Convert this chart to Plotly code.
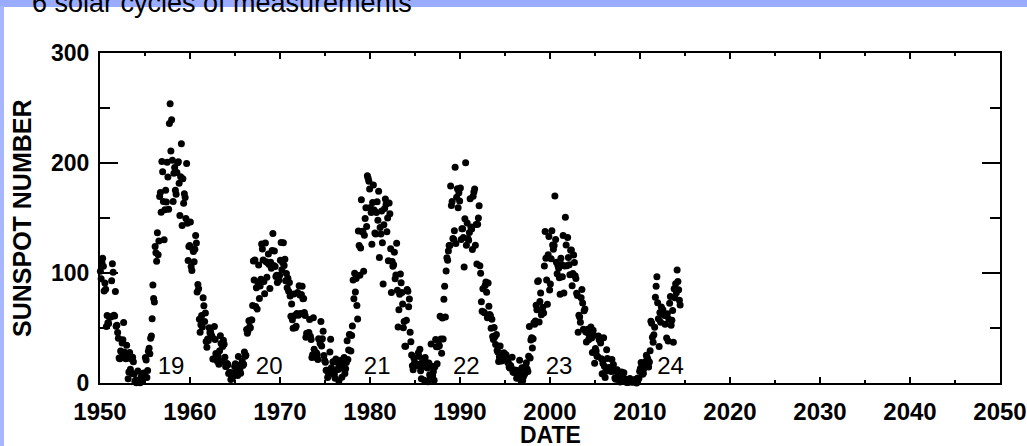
import plotly.graph_objects as go

# Monthly mean sunspot numbers (one list per decade, Jan..Dec)
ssn_1950s = [
    101.6, 94.8, 109.7, 113.4, 106.2, 83.6, 91.0, 85.2, 51.3, 61.4, 54.8, 54.1,
    59.9, 59.9, 59.9, 92.9, 108.5, 100.6, 61.5, 61.0, 83.1, 51.6, 52.4, 45.8,
    40.7, 22.7, 22.0, 29.1, 23.4, 36.4, 39.3, 54.9, 28.2, 23.8, 22.1, 34.3,
    26.5, 3.9, 10.0, 27.8, 12.5, 21.8, 8.6, 23.5, 19.3, 8.2, 1.6, 2.5,
    0.2, 0.5, 10.9, 1.8, 0.8, 0.2, 4.8, 8.4, 1.5, 7.0, 9.2, 7.6,
    23.1, 20.8, 4.9, 11.3, 28.9, 31.7, 26.7, 40.7, 42.7, 58.5, 89.2, 76.9,
    73.6, 124.0, 118.4, 110.7, 136.6, 116.6, 129.1, 169.6, 173.2, 155.3, 201.3, 192.1,
    165.0, 130.2, 157.4, 175.2, 164.6, 200.7, 187.2, 158.0, 235.8, 253.8, 210.9, 239.4,
    202.5, 164.9, 190.7, 196.0, 175.3, 171.5, 191.4, 200.2, 201.2, 181.5, 152.3, 187.6,
    217.4, 143.1, 185.7, 163.3, 172.0, 168.7, 149.6, 199.6, 145.2, 111.4, 124.0, 125.0,
]
ssn_1960s = [
    146.3, 106.0, 102.2, 122.0, 119.6, 110.2, 121.7, 134.1, 127.2, 82.8, 89.6, 85.6,
    57.9, 46.1, 53.0, 61.4, 51.0, 77.4, 70.2, 55.8, 63.6, 37.7, 32.6, 39.9,
    38.7, 50.3, 45.6, 46.4, 43.7, 42.0, 21.8, 21.8, 51.3, 39.5, 26.9, 23.2,
    19.8, 24.4, 17.1, 29.3, 43.0, 35.9, 19.6, 33.2, 38.8, 35.3, 23.4, 14.9,
    15.3, 17.7, 16.5, 8.6, 9.5, 9.1, 3.1, 9.3, 4.7, 6.1, 7.4, 15.1,
    17.5, 14.2, 11.7, 6.8, 24.1, 15.9, 11.9, 8.9, 16.8, 20.1, 15.8, 17.0,
    28.2, 24.4, 25.3, 48.7, 45.3, 47.7, 56.7, 51.2, 50.2, 57.2, 57.2, 70.4,
    110.9, 93.6, 111.8, 69.5, 86.5, 67.3, 91.5, 107.2, 76.8, 88.2, 94.3, 126.4,
    121.8, 111.9, 92.2, 81.2, 127.2, 110.3, 96.1, 109.3, 117.2, 107.7, 86.0, 109.8,
    104.4, 120.5, 135.8, 106.8, 120.0, 106.0, 96.8, 98.0, 91.3, 95.7, 93.5, 97.9,
]
ssn_1970s = [
    111.5, 127.8, 102.9, 109.5, 127.5, 106.8, 112.5, 93.0, 99.5, 86.6, 95.2, 83.5,
    91.3, 79.0, 60.7, 71.8, 57.5, 49.8, 81.0, 61.4, 50.2, 51.7, 63.2, 82.2,
    61.5, 88.4, 80.1, 63.2, 80.5, 88.0, 76.5, 76.8, 64.0, 61.3, 41.6, 45.3,
    43.4, 42.9, 46.0, 57.7, 42.4, 39.5, 23.1, 25.6, 59.3, 30.7, 23.9, 23.3,
    27.6, 26.0, 21.3, 40.3, 39.5, 36.0, 55.8, 33.6, 40.2, 47.1, 25.0, 20.5,
    18.9, 11.5, 11.5, 5.1, 9.0, 11.4, 28.2, 39.7, 13.9, 9.1, 19.4, 7.8,
    8.1, 4.3, 21.9, 18.8, 12.4, 12.2, 1.9, 16.4, 13.5, 20.6, 5.2, 15.3,
    16.4, 23.1, 8.7, 12.9, 18.6, 38.5, 21.4, 30.1, 44.0, 43.8, 29.1, 43.2,
    51.9, 93.6, 76.5, 99.7, 82.7, 95.1, 70.4, 58.1, 138.2, 125.1, 97.9, 122.7,
    166.6, 137.5, 138.0, 101.5, 134.4, 149.5, 159.4, 142.2, 188.4, 186.2, 183.3, 176.3,
]
ssn_1980s = [
    159.6, 155.0, 126.2, 164.1, 179.9, 157.3, 136.3, 135.4, 155.0, 164.7, 147.9, 174.4,
    114.0, 141.3, 135.5, 156.4, 127.5, 90.0, 143.8, 158.7, 167.3, 162.4, 137.5, 150.1,
    111.2, 163.6, 153.8, 122.0, 82.2, 110.4, 106.1, 107.6, 118.8, 94.7, 98.1, 127.0,
    84.3, 51.0, 66.5, 80.7, 99.2, 91.1, 82.2, 71.8, 50.3, 55.8, 33.3, 33.4,
    57.0, 85.1, 83.5, 69.4, 76.4, 46.1, 37.4, 25.5, 15.7, 12.0, 22.8, 18.7,
    16.5, 15.9, 17.2, 16.2, 27.5, 24.2, 30.7, 11.1, 3.9, 18.6, 16.2, 17.3,
    2.5, 23.2, 15.1, 18.5, 13.7, 1.1, 18.1, 7.4, 3.8, 35.4, 15.2, 6.8,
    10.4, 2.4, 14.7, 39.6, 33.0, 17.4, 33.0, 38.7, 33.9, 60.6, 39.9, 27.1,
    59.0, 40.0, 76.2, 88.0, 60.1, 101.8, 113.8, 111.6, 120.1, 125.1, 125.1, 179.2,
    161.3, 165.1, 131.4, 130.6, 138.5, 196.2, 126.9, 168.9, 176.7, 159.4, 173.0, 165.5,
]
ssn_1990s = [
    177.3, 130.5, 140.3, 140.3, 132.2, 105.4, 149.4, 200.3, 125.2, 145.5, 131.4, 129.7,
    136.9, 167.5, 141.9, 140.0, 121.3, 169.7, 173.7, 176.3, 125.3, 144.1, 108.2, 144.4,
    150.0, 161.1, 106.7, 99.8, 73.8, 65.2, 85.7, 64.5, 63.9, 88.7, 91.8, 82.6,
    59.3, 91.0, 69.8, 62.2, 61.3, 49.8, 57.9, 42.3, 39.5, 50.4, 42.0, 35.1,
    44.2, 29.5, 28.1, 19.6, 23.7, 33.7, 22.0, 19.9, 26.8, 26.0, 27.5, 22.4,
    23.9, 25.6, 21.2, 18.9, 18.4, 14.5, 13.6, 15.9, 13.8, 23.3, 10.3, 9.6,
    10.1, 11.5, 11.7, 4.4, 8.2, 11.1, 8.9, 20.6, 3.9, 1.8, 13.9, 2.2,
    5.7, 7.6, 8.7, 15.5, 18.5, 12.7, 10.4, 24.4, 51.3, 22.8, 39.0, 41.2,
    31.9, 40.3, 54.8, 53.4, 56.3, 70.7, 66.6, 92.2, 92.9, 55.5, 74.0, 81.9,
    62.0, 66.3, 68.8, 63.7, 106.4, 137.7, 113.5, 93.7, 71.5, 116.7, 133.2, 84.6,
]
ssn_2000s = [
    90.1, 112.9, 138.5, 125.5, 121.6, 124.9, 170.1, 130.5, 109.7, 99.4, 106.8, 104.4,
    95.6, 80.6, 113.5, 107.7, 96.6, 134.0, 81.8, 106.4, 150.7, 125.5, 106.5, 132.2,
    114.1, 107.4, 98.4, 120.7, 120.8, 88.3, 99.6, 116.4, 109.6, 97.5, 95.0, 81.6,
    79.5, 46.2, 61.5, 60.0, 55.2, 77.4, 85.0, 72.7, 48.8, 65.6, 67.2, 46.7,
    37.2, 46.0, 48.9, 39.3, 41.5, 43.2, 51.0, 40.9, 27.7, 48.0, 43.5, 17.9,
    31.3, 29.2, 24.5, 24.2, 42.7, 39.3, 40.0, 36.4, 22.1, 8.5, 18.0, 41.2,
    15.3, 4.9, 10.6, 30.2, 22.3, 13.9, 12.0, 12.9, 14.4, 10.5, 21.4, 13.6,
    16.8, 10.7, 4.5, 3.4, 11.7, 12.1, 9.7, 6.0, 2.4, 0.9, 1.7, 10.1,
    3.3, 2.1, 9.3, 2.9, 3.2, 3.4, 0.5, 0.5, 1.1, 2.9, 4.1, 0.8,
    1.5, 1.4, 0.7, 1.2, 2.9, 2.6, 3.5, 0.0, 4.2, 4.6, 4.2, 10.6,
]
ssn_2010s = [
    13.1, 18.6, 15.4, 7.9, 8.8, 13.5, 16.1, 19.6, 25.2, 23.5, 21.6, 14.5,
    19.0, 29.4, 56.2, 54.4, 41.6, 37.0, 43.8, 50.6, 78.0, 88.0, 96.7, 73.0,
    58.3, 33.1, 64.2, 55.2, 69.0, 64.5, 66.5, 63.0, 61.4, 53.3, 61.8, 40.8,
    62.9, 38.1, 57.9, 72.4, 78.7, 52.5, 57.0, 66.0, 37.0, 85.6, 77.6, 90.3,
    82.0, 102.8, 92.2, 84.7, 75.2, 71.0,
]
decade_starts = [1950, 1960, 1970, 1980, 1990, 2000, 2010]
decades = [ssn_1950s, ssn_1960s, ssn_1970s, ssn_1980s, ssn_1990s, ssn_2000s, ssn_2010s]

cycle_labels = ["19", "20", "21", "22", "23", "24"]
cycle_label_x = [1957.9, 1968.8, 1980.8, 1990.7, 2001.0, 2013.4]
cycle_label_y = [13.5, 13.5, 13.5, 13.5, 13.5, 13.5]

x_ticks = [1950, 1960, 1970, 1980, 1990, 2000, 2010, 2020, 2030, 2040, 2050]
y_ticks = [0, 100, 200, 300]

# month-centred dates
dates, values = [], []
for start, vals in zip(decade_starts, decades):
    for i, v in enumerate(vals):
        dates.append(start + (i + 0.5) / 12.0)
        values.append(v)

FONT = "Liberation Sans, Arial, Helvetica, sans-serif"
BLUE = "#9aacff"

fig = go.Figure()
fig.add_trace(go.Scatter(
    x=dates, y=values, mode="markers",
    marker=dict(color="black", size=7, line=dict(width=0)),
    cliponaxis=False, showlegend=False, hoverinfo="skip",
))
fig.add_trace(go.Scatter(
    x=cycle_label_x, y=cycle_label_y, mode="text", text=cycle_labels,
    textfont=dict(family=FONT, size=24, color="black"),
    cliponaxis=False, showlegend=False, hoverinfo="skip",
))

W, H = 1027, 446
L, R, T, B = 100, 27, 53, 63
ph = H - T - B
pw = W - L - R

def px2py(y):
    return 1 + (T - y) / ph

def px2px(x):
    return (x - L) / pw

fig.update_layout(
    width=W, height=H,
    margin=dict(l=L, r=R, t=T, b=B, autoexpand=False),
    paper_bgcolor="white", plot_bgcolor="white",
    font=dict(family=FONT, color="black"),
    xaxis=dict(
        range=[1950, 2050], tickvals=x_ticks, ticktext=[str(t) for t in x_ticks],
        automargin=False,
        showgrid=False, zeroline=False,
        showline=True, linecolor="black", linewidth=2, mirror="ticks",
        ticks="inside", ticklen=6, tickwidth=1.5, tickcolor="black",
        minor=dict(ticks="inside", ticklen=3, tickwidth=1.5, tickcolor="black", dtick=5, tick0=1950, showgrid=False),
        tickfont=dict(family=FONT, size=24, color="black", weight="bold"),
        ticklabelstandoff=6,
    ),
    yaxis=dict(
        range=[0, 300], tickvals=y_ticks,
        automargin=False,
        showgrid=False, zeroline=False,
        showline=True, linecolor="black", linewidth=2, mirror="ticks",
        ticks="inside", ticklen=18, tickwidth=1.5, tickcolor="black",
        minor=dict(ticks="inside", ticklen=10, tickwidth=1.5, tickcolor="black", dtick=50, tick0=0, showgrid=False),
        tickfont=dict(family=FONT, size=23, color="black", weight="bold"),
        ticklabelstandoff=4,
    ),
    shapes=[
        # light-blue slide banner along the top edge
        dict(type="rect", xref="paper", yref="paper", layer="above",
             x0=px2px(-2), x1=px2px(W + 2), y0=px2py(7), y1=px2py(-4),
             fillcolor=BLUE, line=dict(width=0)),
        # light-blue strip along the left edge
        dict(type="rect", xref="paper", yref="paper", layer="above",
             x0=px2px(-2), x1=px2px(4), y0=px2py(H + 4), y1=px2py(-4),
             fillcolor="#a6b6ff", line=dict(width=0)),
    ],
    annotations=[
        # banner drawn also as a filled annotation box (behind the title text)
        dict(text=" ", xref="paper", yref="paper", x=px2px(0), y=px2py(0),
             xanchor="left", yanchor="top", showarrow=False,
             width=W, height=6, bgcolor=BLUE, borderpad=0, borderwidth=0,
             font=dict(size=4)),
        dict(text="6 solar cycles of measurements", xref="paper", yref="paper",
             x=px2px(30), y=px2py(3), xanchor="left", yanchor="middle", showarrow=False,
             font=dict(family=FONT, size=27, color="black")),
        dict(text="<b>DATE</b>", xref="paper", yref="paper",
             x=px2px(550), y=px2py(435), xanchor="center", yanchor="middle", showarrow=False,
             font=dict(family=FONT, size=23, color="black")),
        dict(text="<b>SUNSPOT NUMBER</b>", xref="paper", yref="paper", textangle=-90,
             x=px2px(22), y=px2py(218), xanchor="center", yanchor="middle", showarrow=False,
             font=dict(family=FONT, size=25, color="black")),
    ],
)

fig.write_html(
    "out.html",
    config={"displayModeBar": False},
    post_script="document.body.style.margin='0';document.body.style.overflow='hidden';",
)
